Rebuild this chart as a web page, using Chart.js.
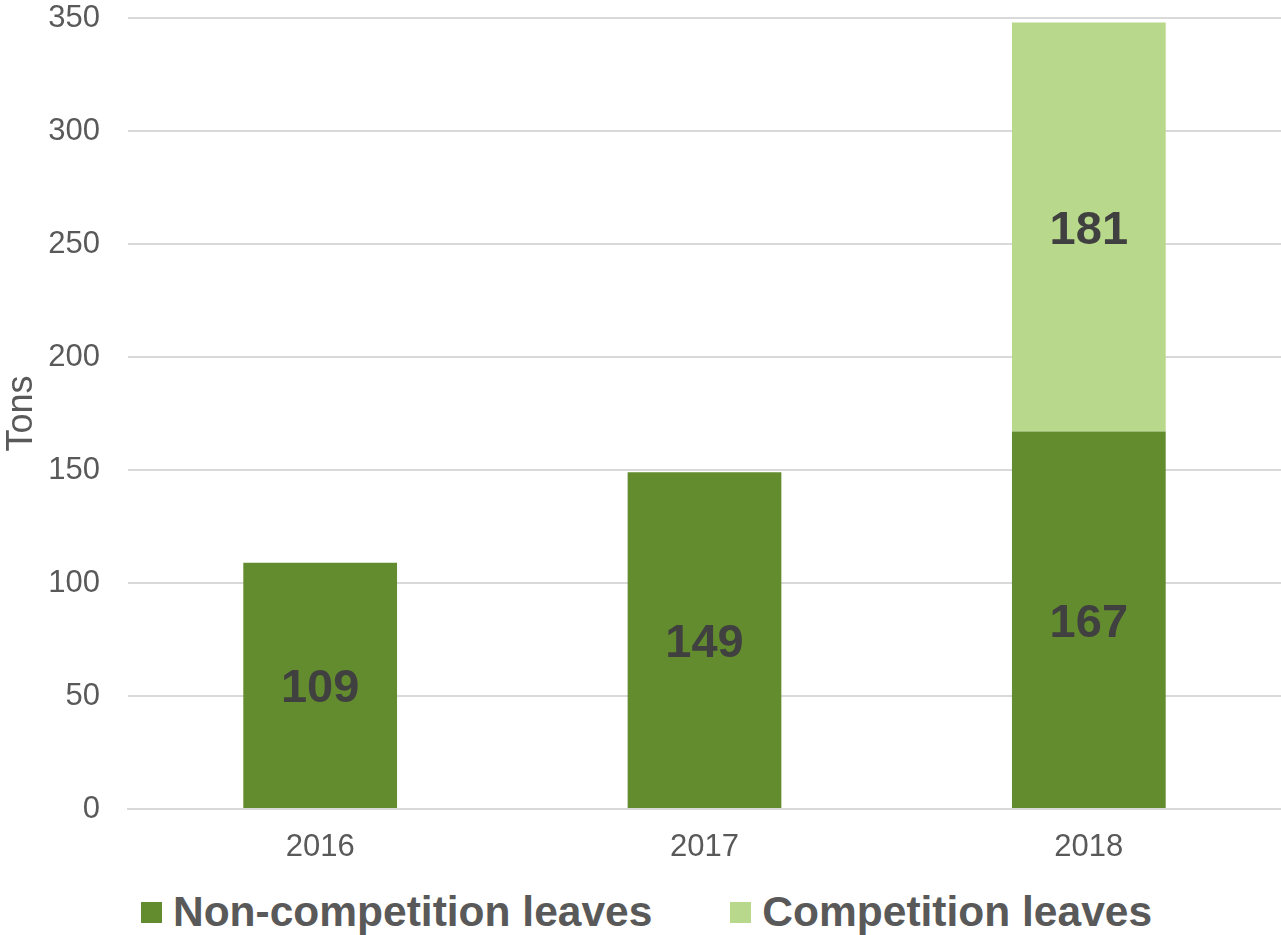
<!DOCTYPE html>
<html>
<head>
<meta charset="utf-8">
<script src="https://cdn.jsdelivr.net/npm/chart.js@4"></script>
<style>
  body { margin: 0; background: #fff; }
  #wrap { width: 1281px; height: 935px; position: relative; font-family: "Liberation Sans", Arial, sans-serif; }
  #plot { position: absolute; left: 0; top: 0; width: 1281px; height: 866px; }
  #legend { position: absolute; left: 6px; top: 887px; width: 1281px; display: flex; justify-content: center; gap: 78px; }
  .item { display: flex; align-items: center; font-size: 42.5px; font-weight: bold; color: #595959; line-height: 50px; }
  .swatch { width: 21px; height: 21px; margin-right: 11px; }
</style>
</head>
<body>
<div id="wrap">
  <div id="plot"><canvas id="leavesChart"></canvas></div>
  <div id="legend"></div>
</div>
<script>
// --- Data ---
const years = ['2016', '2017', '2018'];
const nonCompetition = [109, 149, 167];
const competition = [null, null, 181];
const seriesNames = ['Non-competition leaves', 'Competition leaves'];

const darkGreen = '#638c2f';
const lightGreen = '#b8d98b';
const textGrey = '#595959';
const fontFamily = '"Liberation Sans", Arial, sans-serif';

// --- Value labels drawn in the middle of each bar ---
const labelSize = 47;
const barLabels = {
    id: 'barLabels',
    afterDatasetsDraw(chart) {
        const ctx = chart.ctx;
        ctx.save();
        ctx.font = 'bold ' + labelSize + 'px ' + fontFamily;
        ctx.fillStyle = '#404040';
        ctx.textAlign = 'center';
        ctx.textBaseline = 'alphabetic';
        chart.data.datasets.forEach((ds, i) => {
            chart.getDatasetMeta(i).data.forEach((bar, j) => {
                const v = ds.data[j];
                if (v == null) return;
                // centre the digits (cap height ~0.72em) on the bar middle
                const mid = (bar.y + bar.base) / 2;
                ctx.fillText(String(v), bar.x, mid + labelSize * 0.36);
            });
        });
        ctx.restore();
    }
};

const ctx = document.getElementById('leavesChart').getContext('2d');
const chart = new Chart(ctx, {
    type: 'bar',
    data: {
        labels: years,
        datasets: [
            { label: seriesNames[0], data: nonCompetition, backgroundColor: darkGreen },
            { label: seriesNames[1], data: competition, backgroundColor: lightGreen }
        ]
    },
    options: {
        responsive: true,
        maintainAspectRatio: false,
        animation: false,
        layout: { padding: 0 },
        datasets: { bar: { categoryPercentage: 1, barPercentage: 0.4 } },
        scales: {
            x: {
                stacked: true,
                grid: { display: false, drawTicks: false },
                border: { color: '#d9d9d9', width: 2 },
                ticks: { color: textGrey, font: { family: fontFamily, size: 31 }, padding: 20 },
                afterFit(scale) { scale.height = 57; }
            },
            y: {
                stacked: true,
                min: 0,
                max: 350,
                grid: { color: '#d9d9d9', lineWidth: 2, drawTicks: false },
                border: { display: false },
                ticks: { stepSize: 50, color: textGrey, font: { family: fontFamily, size: 31 }, padding: 28 },
                title: { display: true, text: 'Tons', color: textGrey, font: { family: fontFamily, size: 36 }, padding: { top: 0, bottom: 0 } },
                afterFit(scale) {
                    scale.width = 128;
                    scale.paddingTop = 18;
                    scale.paddingBottom = 0;
                }
            }
        },
        plugins: {
            legend: { display: false },
            tooltip: { enabled: false }
        }
    },
    plugins: [barLabels]
});

// --- HTML legend built from the datasets ---
const legendEl = document.getElementById('legend');
chart.data.datasets.forEach(ds => {
    const item = document.createElement('div');
    item.className = 'item';
    const sw = document.createElement('span');
    sw.className = 'swatch';
    sw.style.background = ds.backgroundColor;
    item.appendChild(sw);
    item.appendChild(document.createTextNode(ds.label));
    legendEl.appendChild(item);
});
</script>
</body>
</html>
